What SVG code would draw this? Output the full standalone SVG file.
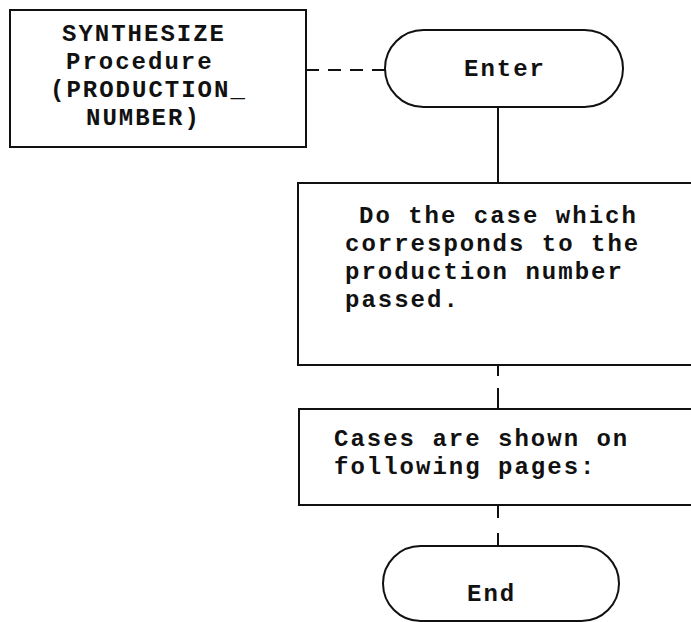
<svg xmlns="http://www.w3.org/2000/svg" width="691" height="622" viewBox="0 0 691 622">
  <style>
    .shape { fill: #ffffff; stroke: #111111; stroke-width: 2; }
    .wire { fill: none; stroke: #111111; stroke-width: 2; }
    .dash { stroke-dasharray: 13 9; }
    .label { font-family: "Liberation Mono", "Courier New", monospace; font-weight: bold; font-size: 24px; letter-spacing: 2px; fill: #111111; }
  </style>
  <rect width="691" height="622" fill="#ffffff"/>

  <!-- connectors -->
  <g id="connectors">
    <line class="wire dash" x1="306" y1="70" x2="385" y2="70"/>
    <line class="wire" x1="498" y1="107" x2="498" y2="183"/>
    <line class="wire" x1="498" y1="365" x2="498" y2="376"/>
    <line class="wire" x1="498" y1="388" x2="498" y2="409"/>
    <line class="wire" x1="498" y1="505" x2="498" y2="518"/>
    <line class="wire" x1="498" y1="533" x2="498" y2="546"/>
  </g>

  <!-- procedure header -->
  <g id="procedure">
    <rect class="shape" x="10" y="10" width="296" height="137"/>
    <text class="label" x="62" y="41">SYNTHESIZE</text>
    <text class="label" x="66" y="69">Procedure</text>
    <text class="label" x="50" y="97">(PRODUCTION_</text>
    <text class="label" x="86" y="125">NUMBER)</text>
  </g>

  <!-- start terminator -->
  <g id="enter">
    <rect class="shape" x="385" y="30" width="238" height="77" rx="38.5" ry="38.5"/>
    <text class="label" x="464" y="76">Enter</text>
  </g>

  <!-- dispatch step -->
  <g id="dispatch">
    <rect class="shape" x="298" y="183" width="402" height="182"/>
    <text class="label" x="359" y="223">Do the case which</text>
    <text class="label" x="345" y="251">corresponds to the</text>
    <text class="label" x="345" y="279">production number</text>
    <text class="label" x="345" y="307">passed.</text>
  </g>

  <!-- note on cases -->
  <g id="cases">
    <rect class="shape" x="299" y="409" width="401" height="96"/>
    <text class="label" x="334" y="446">Cases are shown on</text>
    <text class="label" x="334" y="474">following pages:</text>
  </g>

  <!-- end terminator -->
  <g id="end">
    <rect class="shape" x="383" y="546" width="236" height="75" rx="37.5" ry="37.5"/>
    <text class="label" x="467" y="601">End</text>
  </g>
</svg>
